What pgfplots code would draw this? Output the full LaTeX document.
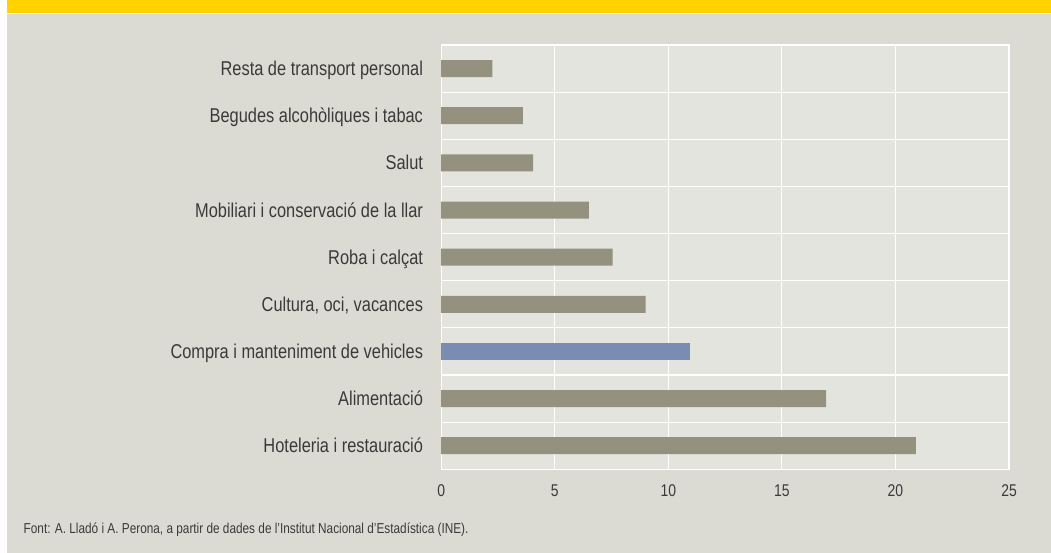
\documentclass[border=0pt]{standalone}
\usepackage{pgfplots}
\pgfplotsset{compat=1.18}
\usepackage{fontspec}
\setmainfont{Liberation Sans}[FakeStretch=0.82]
\definecolor{bggrey}{RGB}{220,219,211}
\definecolor{plotbg}{RGB}{228,228,223}
\definecolor{bargrey}{RGB}{148,145,126}
\definecolor{barblue}{RGB}{121,140,177}
\definecolor{banner}{RGB}{255,210,0}
\definecolor{txt}{RGB}{58,58,58}
\begin{document}
\begin{tikzpicture}[x=1pt,y=1pt]
\fill[white] (0,0) rectangle (1051,553);
\fill[bggrey] (7,0) rectangle (1051,539);
\fill[banner] (7,540) rectangle (1051,553);
\begin{axis}[
  at={(441.2pt,83.7pt)}, anchor=south west,
  scale only axis, width=567.8pt, height=424.3pt,
  xbar, bar width=17pt, bar shift=0pt,
  xmin=0, xmax=25, ymin=-0.5, ymax=8.5,
  xtick={0,5,10,15,20,25},
  ytick={0,1,2,3,4,5,6,7,8},
  yticklabels={Hoteleria i restauració,Alimentació,Compra i manteniment de vehicles,{Cultura, oci, vacances},Roba i calçat,Mobiliari i conservació de la llar,Salut,Begudes alcohòliques i tabac,Resta de transport personal},
  minor ytick={0.5,1.5,2.5,3.5,4.5,5.5,6.5,7.5},
  xmajorgrids=true, yminorgrids=true, ymajorgrids=false,
  grid style={white, line width=1.1pt},
  minor grid style={white, line width=1.1pt},
  axis line style={white, line width=1.1pt},
  axis background/.style={fill=plotbg},
  major tick length=0pt, minor tick length=0pt,
  tick style={draw=none},
  /pgf/number format/assume math mode=true,
  yticklabel style={font=\fontsize{20}{23}\selectfont, text=txt, inner sep=0pt, anchor=base east, xshift=-18pt, yshift=-7pt},
  xticklabel style={font=\fontsize{17}{20}\selectfont, text=txt, inner sep=0pt, anchor=north, yshift=-15pt},
]
\addplot[fill=bargrey, draw=none] coordinates {(20.9,0) (16.95,1) (9.0,3) (7.55,4) (6.5,5) (4.05,6) (3.6,7) (2.25,8)};
\addplot[fill=barblue, draw=none] coordinates {(10.95,2)};
\end{axis}
\node[anchor=west, inner sep=0pt, text=txt, font=\fontsize{14.4}{16}\selectfont] at (23.5,23) {Font: A. Lladó i A. Perona, a partir de dades de l’Institut Nacional d’Estadística (INE).};
\end{tikzpicture}
\end{document}
